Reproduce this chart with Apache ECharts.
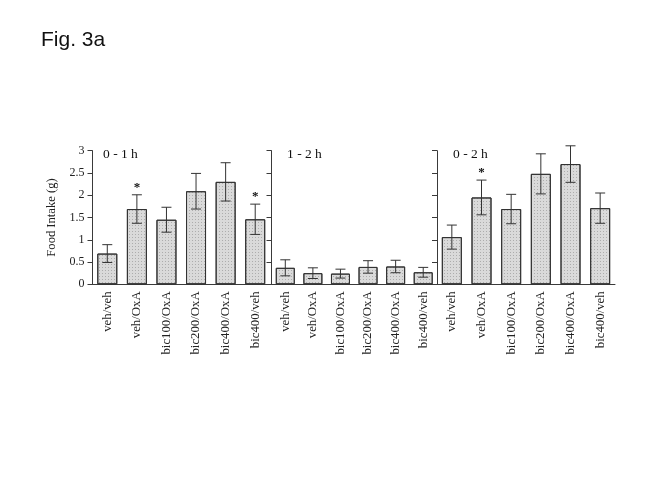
<!DOCTYPE html>
<html>
<head>
<meta charset="utf-8">
<script src="https://cdn.jsdelivr.net/npm/echarts@6/dist/echarts.min.js"></script>
<style>html,body{margin:0;padding:0;background:#fff;}#chart{width:666px;height:500px;}</style>
</head>
<body>
<div id="chart"></div>
<script>
var categories = ['veh/veh', 'veh/OxA', 'bic100/OxA', 'bic200/OxA', 'bic400/OxA', 'bic400/veh'];
var yTicks = [0, 0.5, 1, 1.5, 2, 2.5, 3];
var panelTitles = ['0 - 1 h', '1 - 2 h', '0 - 2 h'];
var means01 = [0.69, 1.69, 1.45, 2.09, 2.30, 1.46];
var errs01 = [0.20, 0.32, 0.28, 0.40, 0.43, 0.34];
var means12 = [0.37, 0.25, 0.24, 0.39, 0.40, 0.27];
var errs12 = [0.18, 0.12, 0.10, 0.14, 0.14, 0.11];
var means02 = [1.06, 1.95, 1.69, 2.48, 2.70, 1.71];
var errs02 = [0.27, 0.39, 0.33, 0.45, 0.41, 0.34];
var stars01 = [false, true, false, false, false, true];
var stars12 = [false, false, false, false, false, false];
var stars02 = [false, true, false, false, false, false];

var panels = [
  {means: means01, errs: errs01, stars: stars01},
  {means: means12, errs: errs12, stars: stars12},
  {means: means02, errs: errs02, stars: stars02}
];

var serif = '"Liberation Serif", "Times New Roman", serif';
var axisColor = '#3a3a3a';
var gridDefs = [
  {left: 92.5, width: 177.5},
  {left: 271.5, width: 165.5},
  {left: 437, width: 178}
];
var barWidths = [20, 19, 20];

var grids = [], xAxes = [], yAxes = [], series = [], graphics = [];
gridDefs.forEach(function (g, i) {
  grids.push({left: g.left, width: g.width, top: 150.7, height: 133.6, containLabel: false});
  xAxes.push({
    type: 'category', gridIndex: i, data: categories,
    axisLine: {show: true, lineStyle: {color: axisColor, width: 1}},
    axisTick: {show: false},
    axisLabel: {rotate: 90, margin: 7, fontFamily: serif, fontSize: 12.8, color: '#222', interval: 0}
  });
  yAxes.push({
    type: 'value', gridIndex: i, min: 0, max: 3, interval: 0.5,
    name: i === 0 ? 'Food Intake (g)' : '',
    nameLocation: 'middle', nameGap: 34, nameRotate: 90,
    nameTextStyle: {fontFamily: serif, fontSize: 12.6, color: '#222'},
    splitLine: {show: false},
    axisLine: {show: true, lineStyle: {color: axisColor, width: 1}},
    axisTick: {show: true, length: 5, inside: false, lineStyle: {color: axisColor}},
    axisLabel: {show: i === 0, margin: 8, fontFamily: serif, fontSize: 12, color: '#222',
      formatter: function (v) { return String(v); }}
  });
  var p = panels[i];
  series.push({
    type: 'bar', xAxisIndex: i, yAxisIndex: i, data: p.means, barWidth: barWidths[i],
    itemStyle: {color: '#dadada', borderColor: '#333', borderWidth: 1,
      decal: {symbol: 'rect', symbolSize: 1, dashArrayX: [1, 2], dashArrayY: [1, 2], color: 'rgba(90,90,90,0.35)', rotation: 0}},
    silent: true, animation: false
  });
  series.push({
    type: 'custom', xAxisIndex: i, yAxisIndex: i,
    data: p.means.map(function (m, k) { return [k, m, p.errs[k], p.stars[k] ? 1 : 0]; }),
    renderItem: function (params, api) {
      var x = api.value(0), m = api.value(1), e = api.value(2), s = api.value(3);
      var top = api.coord([x, m + e]);
      var bot = api.coord([x, m - e]);
      var hw = 5;
      var st = {stroke: '#333', lineWidth: 1};
      var children = [
        {type: 'line', shape: {x1: top[0], y1: top[1], x2: bot[0], y2: bot[1]}, style: st},
        {type: 'line', shape: {x1: top[0] - hw, y1: top[1], x2: top[0] + hw, y2: top[1]}, style: st},
        {type: 'line', shape: {x1: bot[0] - hw, y1: bot[1], x2: bot[0] + hw, y2: bot[1]}, style: st}
      ];
      if (s) {
        children.push({type: 'text', style: {text: '*', x: top[0], y: top[1] - 7,
          fill: '#111', font: 'bold 13px ' + serif, align: 'center', verticalAlign: 'middle'}});
      }
      return {type: 'group', children: children};
    },
    silent: true, animation: false, z: 5
  });
});

var titleXs = [103, 287, 453];
panelTitles.forEach(function (t, i) {
  graphics.push({type: 'text', left: titleXs[i], top: 147.5, style: {text: t, font: '13.5px ' + serif, fill: '#111'}});
});
graphics.push({type: 'text', left: 41, top: 30, style: {text: 'Fig. 3a', font: '21px "Liberation Sans", Arial, sans-serif', fill: '#111'}});

var chart = echarts.init(document.getElementById('chart'), null, {renderer: 'canvas'});
chart.setOption({
  animation: false,
  grid: grids, xAxis: xAxes, yAxis: yAxes, series: series, graphic: graphics
});
</script>
</body>
</html>
